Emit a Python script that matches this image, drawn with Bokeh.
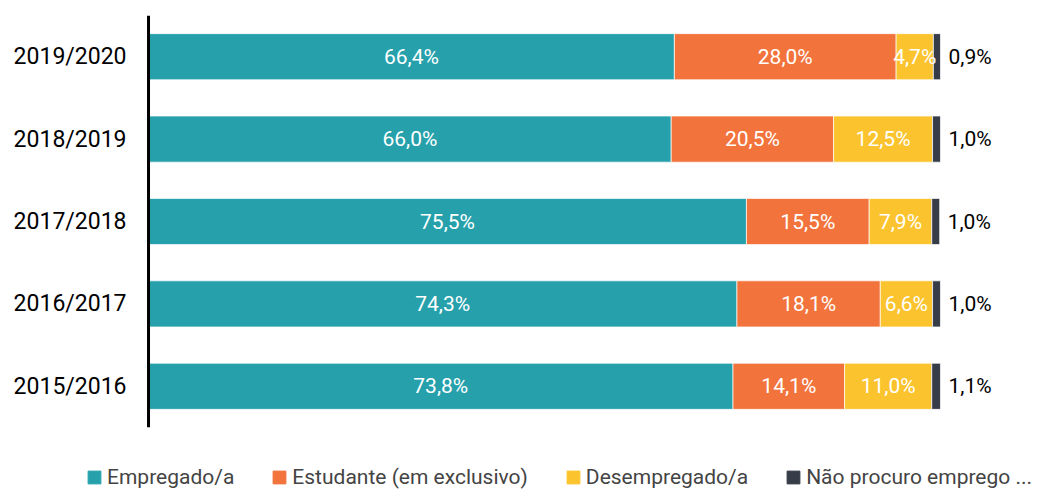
from bokeh.plotting import figure
from bokeh.layouts import column
from bokeh.models import ColumnDataSource, Legend, LegendItem, FactorRange, Range1d, Span
from bokeh.core.properties import value
from bokeh.embed import file_html
from bokeh.resources import INLINE

years = ["2015/2016", "2016/2017", "2017/2018", "2018/2019", "2019/2020"]
empregado = [73.8, 74.3, 75.5, 66.0, 66.4]
estudante = [14.1, 18.1, 15.5, 20.5, 28.0]
desempregado = [11.0, 6.6, 7.9, 12.5, 4.7]
nao_procuro = [1.1, 1.0, 1.0, 1.0, 0.9]
series_names = ["Empregado/a", "Estudante (em exclusivo)", "Desempregado/a", "Não procuro emprego ..."]
colors = ["#26A1AC", "#F2733C", "#FBC32D", "#373D48"]

FONT = "Roboto"

src = ColumnDataSource(dict(years=years, emp=empregado, est=estudante, des=desempregado, nao=nao_procuro))

p = figure(width=1040, height=449, output_backend="svg", toolbar_location=None,
           y_range=FactorRange(factors=years, range_padding=0),
           x_range=Range1d(-18.69, 112.63),
           min_border_left=0, min_border_right=0, min_border_top=15, min_border_bottom=22)

rs = p.hbar_stack(["emp", "est", "des", "nao"], y="years", height=0.56, color=colors,
                  line_color="white", line_alpha=0.7, line_width=1, source=src)

# labels
lx, ly, lt = [], [], []
ox, oy, ot = [], [], []
for i, y in enumerate(years):
    vals = [empregado[i], estudante[i], desempregado[i], nao_procuro[i]]
    left = 0.0
    for j, v in enumerate(vals):
        if j < 3:
            lx.append(left + v / 2)
            ly.append(y)
            lt.append(f"{v:.1f}%".replace(".", ","))
        else:
            ox.append(left + v)
            oy.append(y)
            ot.append(f"{v:.1f}%".replace(".", ","))
        left += v

p.text(x=lx, y=ly, text=lt, text_align="center", text_baseline="middle",
       text_color="white", text_font=value(FONT), text_font_size="21px")
p.text(x=ox, y=oy, text=ot, text_align="left", text_baseline="middle", x_offset=8,
       text_color="black", text_font=value(FONT), text_font_size="21px")

# category labels and axis line at x = 0
p.text(x=[0] * len(years), y=years, text=years, text_align="right", text_baseline="middle",
       x_offset=-22, text_color="black", text_font=value(FONT), text_font_size="23px")
p.add_layout(Span(location=0, dimension="height", line_color="black", line_width=3))

p.xaxis.visible = False
p.yaxis.visible = False
p.xgrid.visible = False
p.ygrid.visible = False
p.outline_line_color = None

# legend figure (dummy off-range swatches only feed the legend)
pl = figure(width=1040, height=40, output_backend="svg", toolbar_location=None,
            x_range=Range1d(0, 1), y_range=Range1d(0, 1),
            min_border_left=0, min_border_right=0, min_border_top=0, min_border_bottom=0)
pl.xaxis.visible = False
pl.yaxis.visible = False
pl.xgrid.visible = False
pl.ygrid.visible = False
pl.outline_line_color = None
dummies = [pl.hbar(y=[-10], right=[-10], height=0.5, color=c) for c in colors]

legend = Legend(items=[LegendItem(label=n, renderers=[r]) for n, r in zip(series_names, dummies)],
                orientation="horizontal", location=(86, 0),
                glyph_width=16, glyph_height=16, label_standoff=5, spacing=37,
                label_text_font=FONT, label_text_font_size="21px",
                background_fill_alpha=0, border_line_alpha=0, padding=0, margin=0)
pl.add_layout(legend)

layout = column(p, pl, spacing=0)
open("out.html", "w").write(file_html(layout, INLINE))
